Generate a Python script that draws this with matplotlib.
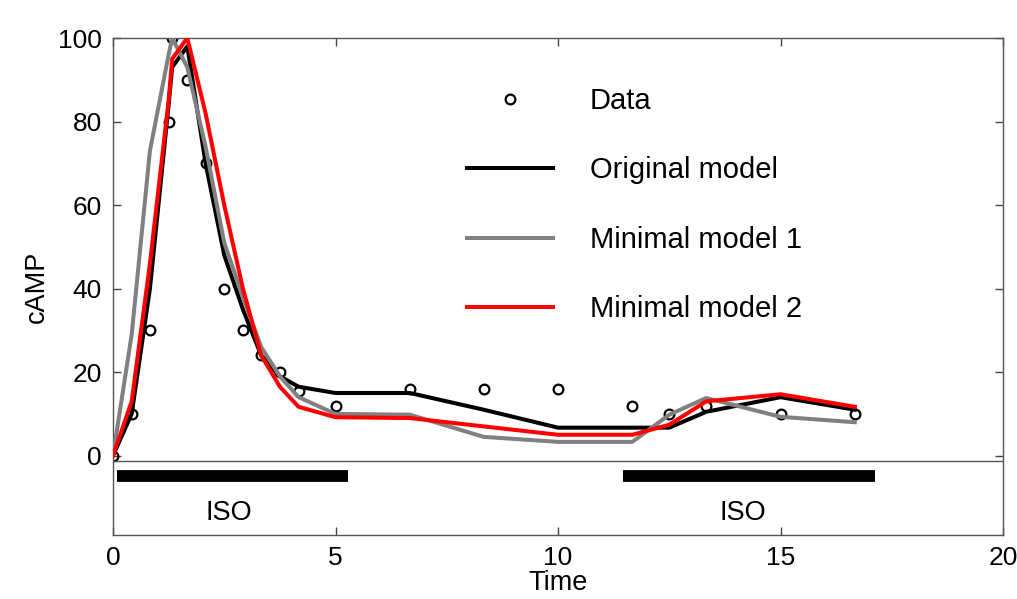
import matplotlib
matplotlib.use("Agg")
import matplotlib.pyplot as plt
import numpy as np

plt.rcParams['font.family'] = ['Liberation Sans', 'DejaVu Sans']

# time points (min)
t = [0, 0.42, 0.83, 1.25, 1.33, 1.67, 2.08, 2.5, 2.92, 3.33, 3.75, 4.17,
     5, 6.67, 8.33, 10, 11.67, 12.5, 13.33, 15, 16.67]

data = [0, 10, 30, 80, 100, 90, 70, 40, 30, 24, 20, 15.5,
        12, 16, 16, 16, 12, 10, 12, 10, 10]
original = [0, 10, 40, 84, 93, 98, 70, 48, 35, 24, 19, 16.5,
            15, 15, 11, 6.7, 6.7, 6.7, 10.5, 14, 11]
minimal1 = [0, 29, 73, 96, 100, 93, 74, 51, 38, 26, 19, 14,
            10, 9.8, 4.5, 3.3, 3.3, 9.8, 13.8, 9.3, 8]
minimal2 = [0, 13, 46, 85, 95, 100, 82, 60, 40, 24, 16.5, 11.7,
            9.2, 9, 7, 5, 5, 7.4, 13, 14.7, 11.7]

# stimulus periods
iso_periods = [(0.1, 5.28), (11.45, 17.12)]
iso_label_x = [2.6, 14.15]

fig = plt.figure(figsize=(10.17, 5.99), dpi=100)
ax = fig.add_axes([113 / 1017, 1 - 535 / 599, (1003 - 113) / 1017, (535 - 38) / 599])

ax.plot(t, data, 'o', mfc='none', mec='black', mew=1.6, ms=7, label='Data', zorder=2)
ax.plot(t, original, color='black', lw=2.9, label='Original model', zorder=3)
ax.plot(t, minimal1, color='#808080', lw=2.9, label='Minimal model 1', zorder=4)
ax.plot(t, minimal2, color='red', lw=2.9, label='Minimal model 2', zorder=5)

ax.axhline(-1.2, color='#555555', lw=1)
for (a, b), lx in zip(iso_periods, iso_label_x):
    ax.plot([a, b], [-4.8, -4.8], color='black', lw=8.5, solid_capstyle='butt')
    ax.text(lx, -13.8, 'ISO', ha='center', va='center', fontsize=19.5)

ax.set_xlim(0, 20)
ax.set_ylim(-19, 100)
ax.set_xticks([0, 5, 10, 15, 20])
ax.set_yticks([0, 20, 40, 60, 80, 100])
ax.tick_params(direction='in', length=6, width=1, color='#444444',
               top=True, right=True, labelsize=19, pad=8)
for s in ax.spines.values():
    s.set_color('#555555')
    s.set_linewidth(1)

ax.set_ylabel('cAMP', fontsize=19.5, labelpad=6)
ax.set_xlabel('Time', fontsize=19.5, labelpad=0)

ax.legend(loc='upper left', bbox_to_anchor=(467 / 1017, 1 - 87 / 599),
          bbox_transform=fig.transFigure, frameon=False, fontsize=21,
          handlelength=2.95, handletextpad=1.25, labelspacing=1.42,
          numpoints=1, borderpad=0, borderaxespad=0)

fig.savefig('out.png', dpi=100)
